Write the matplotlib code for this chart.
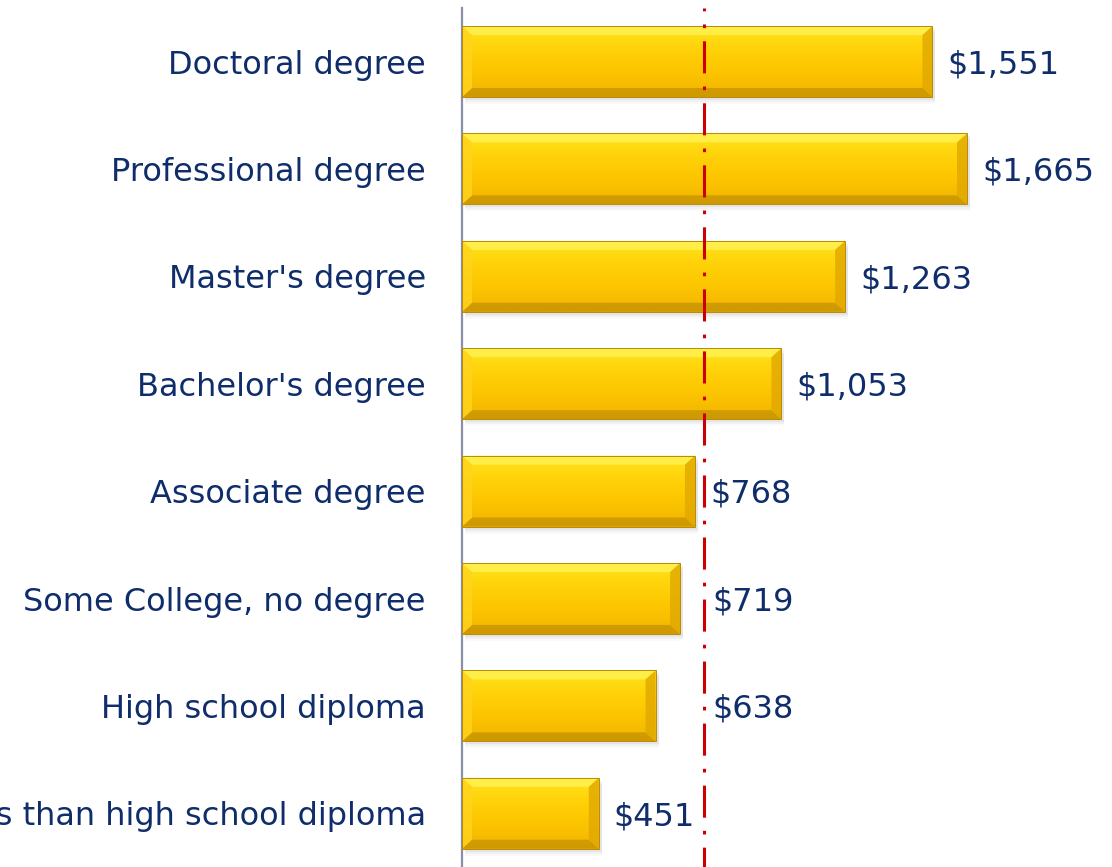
import numpy as np
import matplotlib.pyplot as plt
from matplotlib.colors import LinearSegmentedColormap
from matplotlib.patches import Polygon, Rectangle

categories = ['Doctoral degree', 'Professional degree', "Master's degree", "Bachelor's degree",
              'Associate degree', 'Some College, no degree', 'High school diploma',
              'Less than high school diploma']
earnings = [1551, 1665, 1263, 1053, 768, 719, 638, 451]
median_all = 798

text_color = '#0f2d6b'

fig = plt.figure(figsize=(11.12, 8.67), dpi=100)
ax = fig.add_axes([0.4155, 0.0, 0.5845, 0.991])

xmax = 2143
ax.set_xlim(0, xmax)
ax.set_ylim(len(categories) - 0.5, -0.5)

# pixel -> data conversions for the bevel sizes
px_x = xmax / (0.5845 * 1112)
px_y = len(categories) / (0.991 * 867)

gold = LinearSegmentedColormap.from_list('gold', ['#ffe41c', '#ffd108', '#fcc400', '#f2b400'])
renderer = fig.canvas.get_renderer()

h = 0.66
for i, v in enumerate(earnings):
    top = i - h / 2
    bot = i + h / 2
    # soft shadow
    for k, a in enumerate([0.10, 0.07, 0.04]):
        ax.add_patch(Rectangle((3 * px_x, top + (3 + 2 * k) * px_y), v, h,
                               color='#808080', alpha=a, lw=0, zorder=1))
    # gradient face
    grad = np.linspace(0, 1, 50).reshape(-1, 1)
    im = ax.imshow(grad, extent=(0, v, bot, top), cmap=gold, aspect='auto', zorder=2)
    im.set_clip_path(Rectangle((0, top), v, h, transform=ax.transData))
    # bevels
    dx = 10 * px_x
    dy = 9 * px_y
    ax.add_patch(Polygon([(0, top), (v, top), (v - dx, top + dy), (dx, top + dy)],
                         closed=True, color='#fff150', alpha=0.85, lw=0, zorder=3))
    ax.add_patch(Polygon([(0, bot), (v, bot), (v - dx, bot - dy), (dx, bot - dy)],
                         closed=True, color='#c99600', alpha=0.85, lw=0, zorder=3))
    ax.add_patch(Polygon([(0, top), (dx, top + dy), (dx, bot - dy), (0, bot)],
                         closed=True, color='#ffd41e', alpha=0.8, lw=0, zorder=3))
    ax.add_patch(Polygon([(v, top), (v - dx, top + dy), (v - dx, bot - dy), (v, bot)],
                         closed=True, color='#e0a800', alpha=0.8, lw=0, zorder=3))
    ax.add_patch(Rectangle((0, top), v, h, fill=False, ec='#b8890a', lw=0.7, zorder=4))

    # value label, nudged past the median line when they would overlap
    t = ax.text(v + 15 * px_x, i + 0.03, '${:,}'.format(v), va='center', ha='left',
                fontsize=23, color=text_color, zorder=5)
    w = t.get_window_extent(renderer).width * px_x
    x0 = v + 15 * px_x
    if x0 < median_all + 4 * px_x and x0 + w > median_all - 4 * px_x:
        t.set_x(median_all + 8 * px_x)

ax.axvline(median_all, color='#cc0000', lw=2.2,
           linestyle=(4, (10.5, 4.3, 1.2, 4.3)), zorder=6)

ax.set_yticks(range(len(categories)))
ax.set_yticklabels(categories, fontsize=23, color=text_color)
ax.tick_params(axis='y', length=0, pad=26)
ax.set_xticks([])
for s in ['top', 'right', 'bottom']:
    ax.spines[s].set_visible(False)
ax.spines['left'].set_color('#8a8fa8')
ax.spines['left'].set_linewidth(1.6)

fig.savefig('out.png', dpi=100)
